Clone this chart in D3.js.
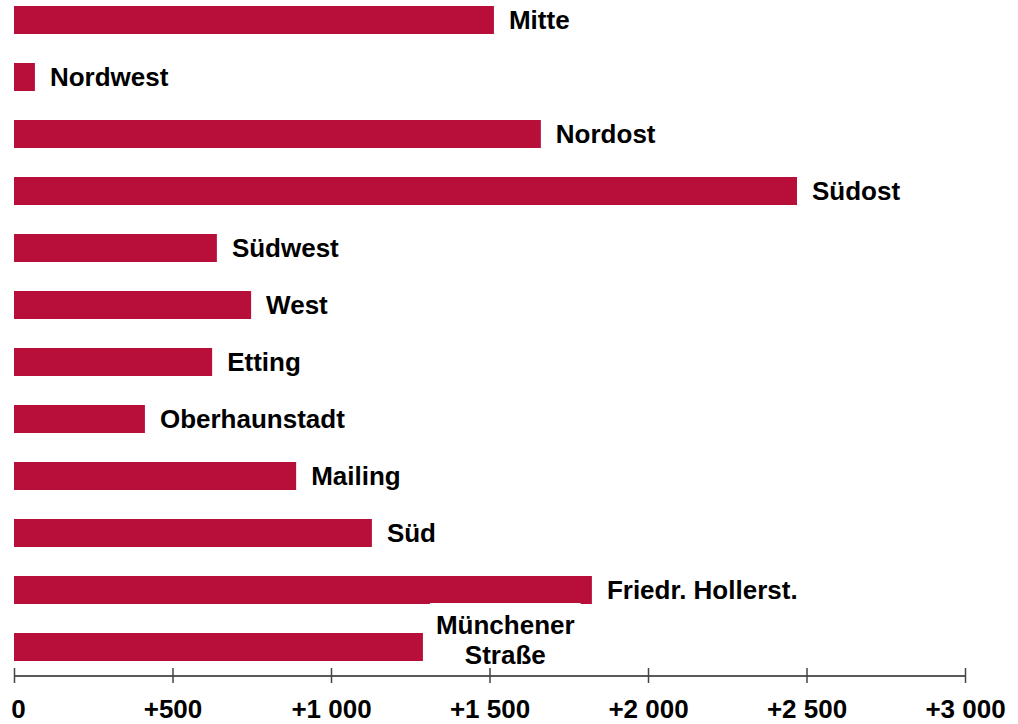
<!DOCTYPE html>
<html>
<head>
<meta charset="utf-8">
<script src="https://cdn.jsdelivr.net/npm/d3@7"></script>
<style>
  body { margin: 0; background: #fff; }
  svg text { font-family: "Liberation Sans", Arial, sans-serif; font-weight: bold; fill: #000; }
</style>
</head>
<body>
<svg width="1018" height="724"></svg>
<script>
var districts = ["Mitte", "Nordwest", "Nordost", "Südost", "Südwest", "West", "Etting",
                 "Oberhaunstadt", "Mailing", "Süd", "Friedr. Hollerst.", "Münchener Straße"];
var changes = [1514, 66, 1662, 2470, 640, 748, 625, 413, 890, 1129, 1823, 1290];
var tickValues = [0, 500, 1000, 1500, 2000, 2500, 3000];

var svg = d3.select("svg"),
    barColor = "#b80f3a",
    barH = 28,
    fontSize = "26px";

var x = d3.scaleLinear()
    .domain([0, 3000])
    .range([14, 965]);

var y = d3.scalePoint()
    .domain(districts)
    .range([20, 647]);

var data = districts.map(function(d, i) { return {name: d, value: changes[i]}; });

// bars
svg.append("g").selectAll("rect")
    .data(data)
  .enter().append("rect")
    .attr("x", x(0))
    .attr("y", function(d) { return y(d.name) - barH / 2; })
    .attr("width", function(d) { return x(d.value) - x(0); })
    .attr("height", barH)
    .attr("fill", barColor);

// labels
var labels = svg.append("g");
data.forEach(function(d) {
  if (d.name === "Münchener Straße") {
    var g = labels.append("g");
    var bg = g.append("rect").attr("fill", "#fff");
    var t = g.append("text")
        .style("font-size", fontSize)
        .attr("text-anchor", "middle");
    t.append("tspan").attr("x", 0).attr("y", 634).text("Münchener");
    t.append("tspan").attr("x", 0).attr("y", 664).text("Straße");
    var w = t.node().getBBox().width;
    t.selectAll("tspan").attr("x", x(d.value) + 13 + w / 2);
    var bb = t.node().getBBox();
    bg.attr("x", bb.x - 6).attr("y", 603)
      .attr("width", bb.width + 12).attr("height", bb.y + bb.height - 603);
  } else {
    labels.append("text")
        .attr("x", x(d.value) + 15)
        .attr("y", y(d.name))
        .attr("dy", "0.35em")
        .style("font-size", fontSize)
        .text(d.name);
  }
});

// axis
var fmt = function(d) {
  return d === 0 ? "0" : "+" + d3.format(",")(d).replace(/,/g, " ");
};

var xAxis = d3.axisBottom(x)
    .tickValues(tickValues)
    .tickSize(7)
    .tickFormat(fmt);

svg.append("g")
    .attr("transform", "translate(0,676)")
    .call(customXAxis);

function customXAxis(g) {
  g.call(xAxis);
  g.select(".domain").attr("d", "M" + x(0) + ",0H" + x(3000)).attr("stroke", "#222").attr("stroke-width", 1.5);
  g.selectAll(".tick line").attr("y1", -8).attr("y2", 7).attr("stroke", "#444").attr("stroke-width", 1.5);
  g.selectAll(".tick text")
      .attr("y", 42)
      .attr("dy", "0")
      .style("font-size", fontSize)
      .style("font-family", "'Liberation Sans', Arial, sans-serif")
      .style("font-weight", "bold")
      .attr("fill", "#000");
  g.selectAll(".tick:first-of-type text").attr("dx", 4);
}
</script>
</body>
</html>
